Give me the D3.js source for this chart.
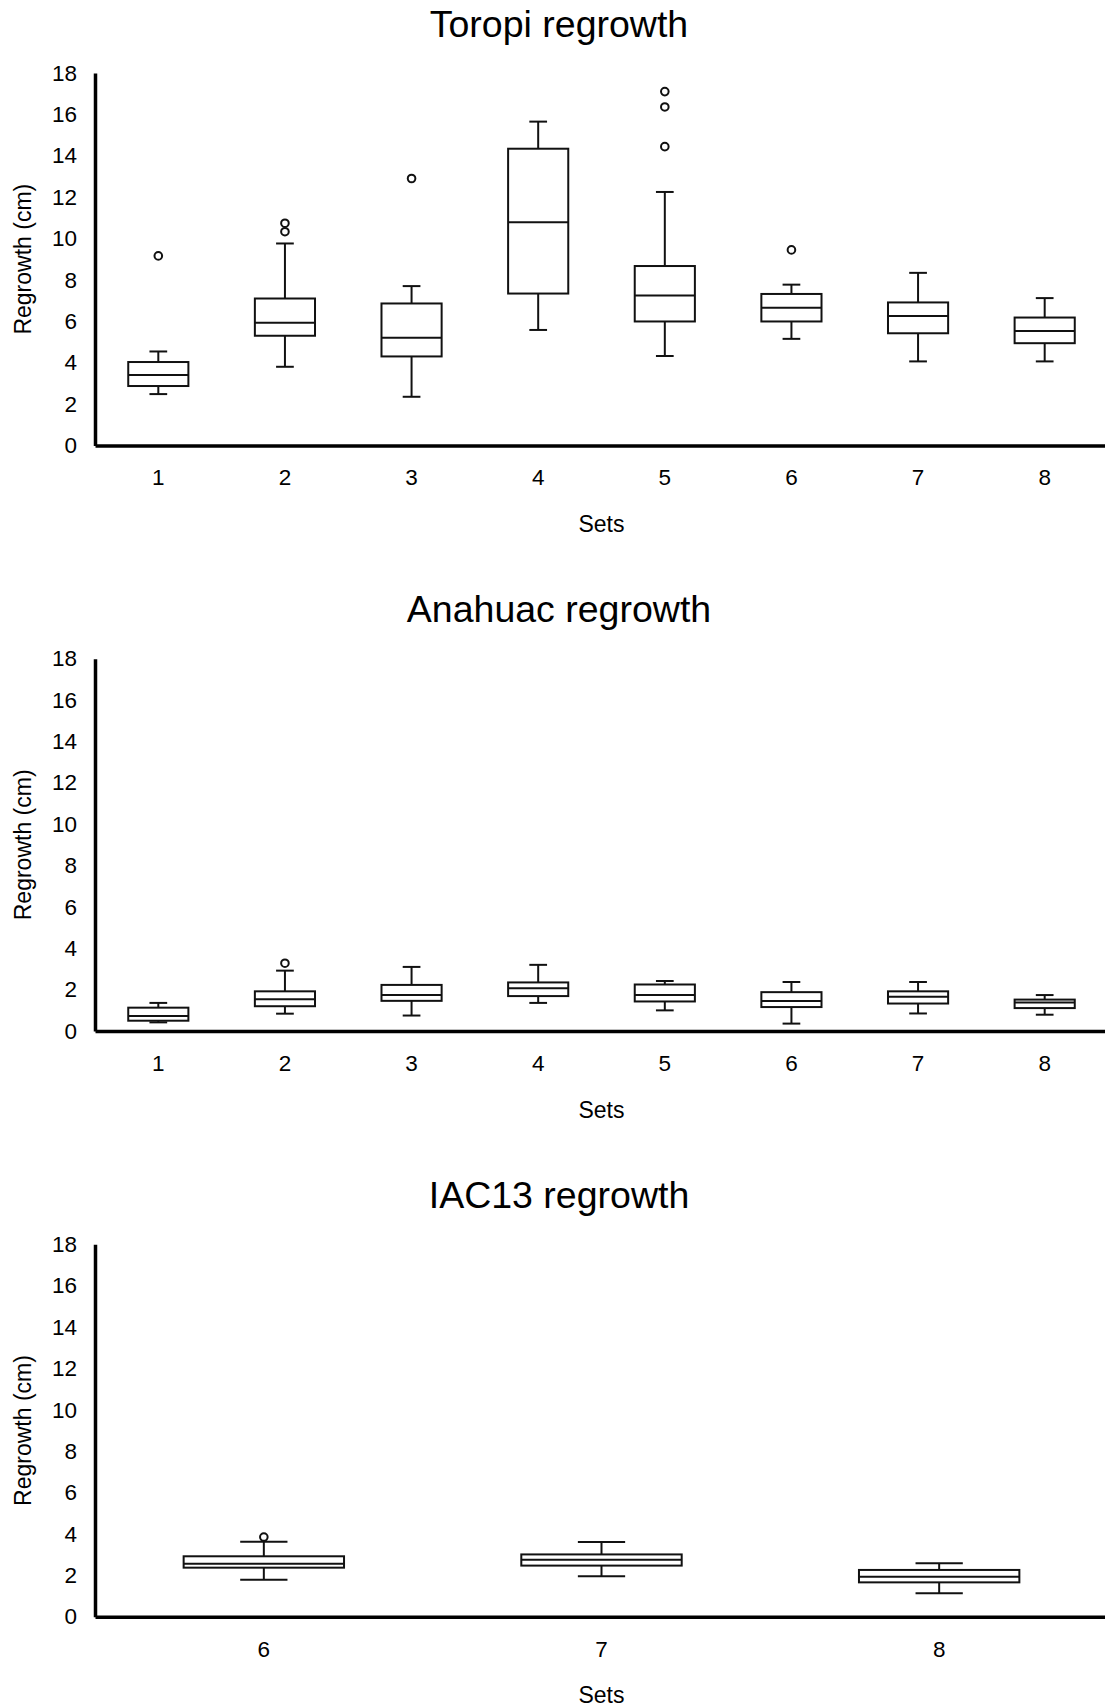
<!DOCTYPE html>
<html>
<head>
<meta charset="utf-8">
<script src="https://cdn.jsdelivr.net/npm/d3@7"></script>
<style>
  html, body { margin: 0; padding: 0; background: #fff; }
  svg { display: block; font-family: "Liberation Sans", Arial, sans-serif; }
</style>
</head>
<body>
<svg id="chart" width="1105" height="1708"></svg>
<script>
// Shared y-axis ticks
const yTicks = [0, 2, 4, 6, 8, 10, 12, 14, 16, 18];

// Toropi
const toropiSets = ["1", "2", "3", "4", "5", "6", "7", "8"];
const toropiLow = [2.48, 3.80, 2.35, 5.58, 4.32, 5.15, 4.06, 4.06];
const toropiQ1 = [2.87, 5.30, 4.30, 7.34, 5.99, 5.99, 5.42, 4.94];
const toropiMedian = [3.40, 5.93, 5.20, 10.79, 7.25, 6.65, 6.25, 5.53];
const toropiQ3 = [4.03, 7.10, 6.86, 14.34, 8.67, 7.32, 6.91, 6.18];
const toropiHigh = [4.54, 9.76, 7.70, 15.65, 12.25, 7.77, 8.34, 7.12];
const toropiOutliers = [[9.16], [10.33, 10.74], [12.90], [], [14.44, 16.36, 17.10], [9.45], [], []];

// Anahuac
const anahuacSets = ["1", "2", "3", "4", "5", "6", "7", "8"];
const anahuacLow = [0.42, 0.84, 0.75, 1.36, 1.00, 0.36, 0.85, 0.79];
const anahuacQ1 = [0.50, 1.20, 1.46, 1.69, 1.43, 1.16, 1.33, 1.11];
const anahuacMedian = [0.73, 1.54, 1.74, 2.07, 1.74, 1.45, 1.66, 1.38];
const anahuacQ3 = [1.13, 1.92, 2.23, 2.35, 2.25, 1.88, 1.92, 1.52];
const anahuacHigh = [1.36, 2.92, 3.10, 3.20, 2.42, 2.37, 2.37, 1.74];
const anahuacOutliers = [[], [3.28], [], [], [], [], [], []];

// IAC13
const iacSets = ["6", "7", "8"];
const iacLow = [1.78, 1.96, 1.13];
const iacQ1 = [2.37, 2.47, 1.66];
const iacMedian = [2.56, 2.75, 1.93];
const iacQ3 = [2.92, 3.01, 2.26];
const iacHigh = [3.62, 3.61, 2.58];
const iacOutliers = [[3.85], [], []];

const panels = [
  { title: "Toropi regrowth", sets: toropiSets, low: toropiLow, q1: toropiQ1, median: toropiMedian, q3: toropiQ3, high: toropiHigh, outliers: toropiOutliers },
  { title: "Anahuac regrowth", sets: anahuacSets, low: anahuacLow, q1: anahuacQ1, median: anahuacMedian, q3: anahuacQ3, high: anahuacHigh, outliers: anahuacOutliers },
  { title: "IAC13 regrowth", sets: iacSets, low: iacLow, q1: iacQ1, median: iacMedian, q3: iacQ3, high: iacHigh, outliers: iacOutliers }
];

const svg = d3.select("#chart");
const panelStep = 585.65;
const plotLeft = 95, plotRight = 1108;
const plotTop = 73, plotBottom = 445.4;

panels.forEach((p, k) => {
  const g = svg.append("g").attr("transform", `translate(0,${k * panelStep})`);

  const x = d3.scaleBand().domain(p.sets).range([plotLeft, plotRight]).padding(0);
  const y = d3.scaleLinear().domain([0, 18]).range([plotBottom, plotTop]);
  const bw = x.bandwidth();
  const boxW = bw * 0.475;
  const capW = bw * 0.14;

  // Title
  g.append("text")
    .attr("x", 559).attr("y", 36.6)
    .attr("text-anchor", "middle")
    .attr("font-size", 37.5)
    .attr("fill", "#000")
    .text(p.title);

  // Y axis
  const yAxis = g.append("g")
    .attr("transform", `translate(${plotLeft},0)`)
    .call(d3.axisLeft(y).tickValues(yTicks).tickSize(0).tickPadding(18));
  yAxis.select(".domain").attr("stroke", "#000").attr("stroke-width", 3.5);
  yAxis.selectAll("text").attr("font-size", 22.5).attr("fill", "#000")
    .attr("font-family", "Liberation Sans, Arial, sans-serif");

  // X axis
  const xAxis = g.append("g")
    .attr("transform", `translate(0,${plotBottom})`)
    .call(d3.axisBottom(x).tickSize(0).tickPadding(24));
  xAxis.select(".domain").attr("stroke", "#000").attr("stroke-width", 3.5);
  xAxis.selectAll("text").attr("font-size", 22.5).attr("fill", "#000")
    .attr("font-family", "Liberation Sans, Arial, sans-serif");

  // Axis titles
  g.append("text")
    .attr("transform", `translate(31,${(plotTop + plotBottom) / 2}) rotate(-90)`)
    .attr("text-anchor", "middle")
    .attr("font-size", 23)
    .attr("fill", "#000")
    .text("Regrowth (cm)");
  g.append("text")
    .attr("x", (plotLeft + plotRight) / 2).attr("y", 532)
    .attr("text-anchor", "middle")
    .attr("font-size", 23)
    .attr("fill", "#000")
    .text("Sets");

  const rows = p.sets.map((s, i) => ({
    set: s, low: p.low[i], q1: p.q1[i], median: p.median[i], q3: p.q3[i], high: p.high[i], outliers: p.outliers[i]
  }));

  const box = g.selectAll("g.box").data(rows).join("g").attr("class", "box")
    .attr("stroke", "#111").attr("stroke-width", 2).attr("fill", "none");

  const cx = d => x(d.set) + bw / 2;

  // Whiskers
  box.append("line")
    .attr("x1", cx).attr("x2", cx)
    .attr("y1", d => y(d.q3)).attr("y2", d => y(d.high));
  box.append("line")
    .attr("x1", cx).attr("x2", cx)
    .attr("y1", d => y(d.q1)).attr("y2", d => y(d.low));
  box.append("line")
    .attr("x1", d => cx(d) - capW / 2).attr("x2", d => cx(d) + capW / 2)
    .attr("y1", d => y(d.high)).attr("y2", d => y(d.high));
  box.append("line")
    .attr("x1", d => cx(d) - capW / 2).attr("x2", d => cx(d) + capW / 2)
    .attr("y1", d => y(d.low)).attr("y2", d => y(d.low));

  // Box
  box.append("rect")
    .attr("x", d => cx(d) - boxW / 2)
    .attr("width", boxW)
    .attr("y", d => y(d.q3))
    .attr("height", d => y(d.q1) - y(d.q3))
    .attr("fill", "#fff");

  // Median
  box.append("line")
    .attr("x1", d => cx(d) - boxW / 2).attr("x2", d => cx(d) + boxW / 2)
    .attr("y1", d => y(d.median)).attr("y2", d => y(d.median));

  // Outliers
  box.selectAll("circle")
    .data(d => d.outliers.map(v => ({ set: d.set, v })))
    .join("circle")
    .attr("cx", d => x(d.set) + bw / 2)
    .attr("cy", d => y(d.v))
    .attr("r", 3.8)
    .attr("fill", "#fff");
});
</script>
</body>
</html>
